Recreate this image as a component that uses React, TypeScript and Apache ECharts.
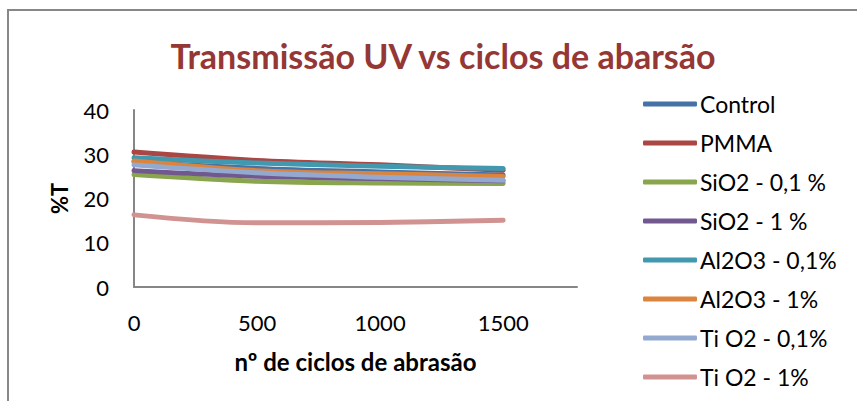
import React, { useEffect, useRef } from "react";
import * as echarts from "echarts";

const cycles = [0, 500, 1000, 1500];
const seriesNames = [
  "Control",
  "PMMA",
  "SiO2 - 0,1 %",
  "SiO2 - 1 %",
  "Al2O3 - 0,1%",
  "Al2O3 - 1%",
  "Ti O2 - 0,1%",
  "Ti O2 - 1%",
];
const control = [28.3, 26.8, 26.0, 25.3];
const pmma = [30.5, 28.6, 27.6, 26.4];
const sio2_01 = [25.4, 23.9, 23.5, 23.4];
const sio2_1 = [26.3, 25.0, 24.5, 24.0];
const al2o3_01 = [29.2, 28.0, 27.3, 26.8];
const al2o3_1 = [28.5, 26.3, 25.6, 25.0];
const tio2_01 = [27.6, 25.8, 24.8, 24.1];
const tio2_1 = [16.3, 14.5, 14.6, 15.1];
const allValues = [control, pmma, sio2_01, sio2_1, al2o3_01, al2o3_1, tio2_01, tio2_1];
const colors = ["#4572A7", "#AA4643", "#89A54E", "#71588F", "#4198AF", "#DB843D", "#93A9CF", "#D19392"];
const yTicks = [0, 10, 20, 30, 40];
const xTicks = [0, 500, 1000, 1500];

export default function App() {
  const ref = useRef<HTMLDivElement>(null);
  useEffect(() => {
    if (!ref.current) return;
    const chart = echarts.init(ref.current, undefined, { renderer: "svg" });
    const font = "Lato, 'Open Sans', sans-serif";
    chart.setOption({
      animation: false,
      textStyle: { fontFamily: font },
      graphic: [
        {
          type: "rect",
          shape: { x: 8, y: 10, width: 900, height: 450 },
          style: { fill: "none", stroke: "#878787", lineWidth: 2 },
          silent: true,
        },
      ],
      title: {
        text: "Transmissão UV vs ciclos de abarsão",
        left: 438,
        textAlign: "center",
        top: 33,
        textStyle: { fontFamily: font, fontSize: 34, fontWeight: "bold", color: "#953735" },
      },
      legend: {
        orient: "vertical",
        left: 638,
        top: 87,
        itemWidth: 54,
        itemHeight: 5,
        itemGap: 15,
        icon: "roundRect",
        data: seriesNames,
        textStyle: { fontFamily: font, fontSize: 23, color: "#000", lineHeight: 24, padding: [0, 0, 0, -2] },
      },
      grid: { left: 134, top: 110, width: 443, height: 177, containLabel: false },
      xAxis: {
        type: "value",
        min: xTicks[0],
        max: 1800,
        interval: 500,
        name: "nº de ciclos de abrasão",
        nameLocation: "middle",
        nameGap: 62,
        nameTextStyle: { fontFamily: font, fontSize: 24, fontWeight: "bold", color: "#000" },
        axisLine: { show: true, lineStyle: { color: "#868686", width: 2 } },
        axisTick: { show: false },
        splitLine: { show: false },
        axisLabel: {
          showMaxLabel: false,
          margin: 24,
          fontSize: 22,
          color: "#000",
          fontFamily: font,
          formatter: (v: number) => (xTicks.includes(v) ? String(v) : ""),
        },
      },
      yAxis: {
        type: "value",
        min: yTicks[0],
        max: yTicks[yTicks.length - 1],
        interval: 10,
        name: "%T",
        nameLocation: "middle",
        nameGap: 64,
        nameRotate: 90,
        nameTextStyle: { fontFamily: font, fontSize: 22, fontWeight: "bold", color: "#000" },
        axisLine: { show: true, lineStyle: { color: "#868686", width: 2 } },
        axisTick: { show: false },
        splitLine: { show: false },
        axisLabel: { margin: 25, fontSize: 22, color: "#000", fontFamily: font },
      },
      series: seriesNames.map((name, i) => ({
        name,
        type: "line",
        smooth: 0.35,
        showSymbol: false,
        symbol: "none",
        color: colors[i],
        lineStyle: { width: 5, color: colors[i], cap: "round", join: "round" },
        data: cycles.map((c, j) => [c, allValues[i][j]]),
      })),
    });
    return () => chart.dispose();
  }, []);
  return (
    <div
      ref={ref}
      style={{ position: "absolute", left: 0, top: 0, width: 857, height: 401, background: "#fff" }}
    />
  );
}
